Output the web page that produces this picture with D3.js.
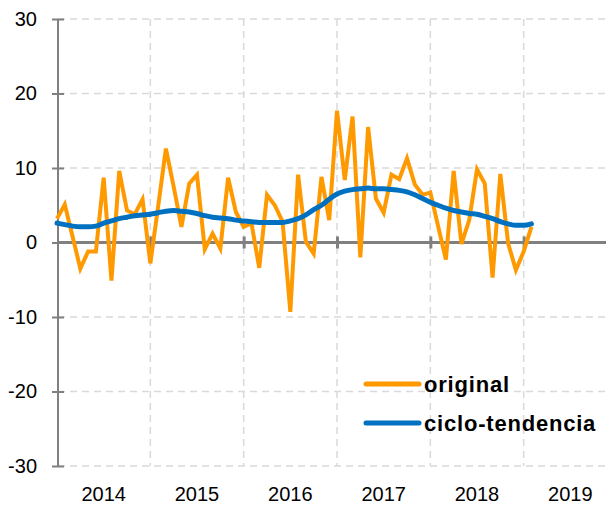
<!DOCTYPE html>
<html>
<head>
<meta charset="utf-8">
<script src="https://cdn.jsdelivr.net/npm/d3@7"></script>
<style>
  html, body { margin: 0; padding: 0; background: #fff; }
  svg { display: block; font-family: "Liberation Sans", Arial, sans-serif; }
</style>
</head>
<body>
<div id="chart"></div>
<script>
// monthly data, Jan 2014 .. Feb 2019
const startYear = 2014
const years = [2014, 2015, 2016, 2017, 2018, 2019]
const yTicks = [-30, -20, -10, 0, 10, 20, 30]

const original = [
  3.2, 5.1, 0.8, -3.5, -1.2, -1.2, 8.7, -5.1, 9.6, 4.3, 3.8, 5.8,
  -2.8, 4.8, 12.6, 7.5, 2.1, 7.9, 9.1, -0.9, 1.2, -0.8, 8.7, 4.1,
  2.1, 2.6, -3.4, 6.4, 5.0, 2.8, -9.3, 9.1, 0.1, -1.5, 8.8, 3.0,
  17.7, 8.4, 16.9, -2.0, 15.5, 5.9, 4.0, 9.1, 8.5, 11.3, 7.8, 6.4,
  6.7, 2.2, -2.3, 9.6, -0.2, 3.0, 9.8, 7.9, -4.7, 9.2, -0.1, -3.7,
  -1.2, 2.1
]

const tendencia = [
  2.6, 2.4, 2.2, 2.1, 2.1, 2.2, 2.6, 2.9, 3.2, 3.4, 3.6, 3.7,
  3.8, 4.0, 4.2, 4.3, 4.2, 4.1, 3.9, 3.6, 3.4, 3.3, 3.2, 3.0,
  2.9, 2.8, 2.7, 2.7, 2.7, 2.7, 2.9, 3.2, 3.7, 4.4, 5.0, 5.8,
  6.5, 6.9, 7.1, 7.2, 7.3, 7.2, 7.2, 7.1, 7.0, 6.8, 6.4, 5.9,
  5.4, 5.0, 4.6, 4.3, 4.1, 3.9, 3.8, 3.5, 3.2, 2.8, 2.5, 2.3,
  2.3, 2.5
]

const seriesNames = ["original", "ciclo-tendencia"]
const seriesColors = ["#ff9900", "#0070c0"]

const w = 606
const h = 507
const plotLeft = 58
const plotTop = 19
const plotBottom = 466

const svg = d3.select("#chart").append("svg").attr("width", w).attr("height", h)

const x = d3.scaleLinear().domain([startYear, startYear + 6]).range([57, 617])
const y = d3.scaleLinear().domain([-30, 30]).range([plotBottom, plotTop])

const monthX = (d, i) => x(startYear + i / 12)

// grid
svg.append("g")
  .selectAll("line")
  .data(yTicks)
  .enter()
  .append("line")
  .attr("x1", plotLeft)
  .attr("x2", w)
  .attr("y1", d => y(d))
  .attr("y2", d => y(d))
  .attr("stroke", "#d9d9d9")
  .attr("stroke-width", 1.5)
  .attr("stroke-dasharray", "7,5")

svg.append("g")
  .selectAll("line")
  .data(years.slice(1))
  .enter()
  .append("line")
  .attr("x1", d => x(d))
  .attr("x2", d => x(d))
  .attr("y1", plotTop)
  .attr("y2", plotBottom)
  .attr("stroke", "#d9d9d9")
  .attr("stroke-width", 1.5)
  .attr("stroke-dasharray", "7,5")

// y axis (plain hyphen for negatives, like the original)
const yAxis = d3.axisLeft(y).tickValues(yTicks).tickSize(6).tickFormat(d => String(d))
const gy = svg.append("g").attr("transform", `translate(${plotLeft},0)`).call(yAxis)
gy.select(".domain").attr("stroke", "#808080").attr("stroke-width", 2).attr("d", `M0,${plotTop}V${plotBottom}`)
gy.selectAll(".tick line").attr("stroke", "#808080").attr("stroke-width", 2).attr("x1", 6)
gy.selectAll(".tick text").attr("font-size", 20).attr("fill", "#000")
  .attr("font-family", "'Liberation Sans', Arial, sans-serif").attr("x", -21)

// zero line with year ticks
const xAxis = d3.axisBottom(x).tickValues(years.slice(1)).tickSize(6).tickFormat("")
const gx = svg.append("g").attr("transform", `translate(0,${y(0)})`).call(xAxis)
gx.select(".domain").attr("stroke", "#808080").attr("stroke-width", 3).attr("d", `M${plotLeft},0H${w}`)
gx.selectAll(".tick line").attr("stroke", "#808080").attr("stroke-width", 3).attr("y1", -6)

// year labels centred in each year
svg.append("g")
  .selectAll("text")
  .data(years)
  .enter()
  .append("text")
  .attr("x", d => x(d + 0.5))
  .attr("y", 501)
  .attr("text-anchor", "middle")
  .attr("font-size", 20)
  .text(d => d)

// lines
const line = d3.line().x(monthX).y(d => y(d))

svg.append("path")
  .datum(original)
  .attr("d", line)
  .attr("fill", "none")
  .attr("stroke", seriesColors[0])
  .attr("stroke-width", 4)

svg.append("path")
  .datum(tendencia)
  .attr("d", line.curve(d3.curveMonotoneX))
  .attr("fill", "none")
  .attr("stroke", seriesColors[1])
  .attr("stroke-width", 5)
  .attr("stroke-linecap", "round")

// legend
const legend = svg.append("g")
  .selectAll("g")
  .data(seriesNames)
  .enter()
  .append("g")
  .attr("transform", (d, i) => `translate(366,${384 + i * 39})`)

legend.append("line")
  .attr("x1", 0)
  .attr("x2", 53)
  .attr("stroke", (d, i) => seriesColors[i])
  .attr("stroke-width", 5)
  .attr("stroke-linecap", "round")

legend.append("text")
  .attr("x", 58)
  .attr("y", 8)
  .attr("font-size", 22)
  .attr("font-weight", "bold")
  .attr("letter-spacing", 0.8)
  .text(d => d)
</script>
</body>
</html>
